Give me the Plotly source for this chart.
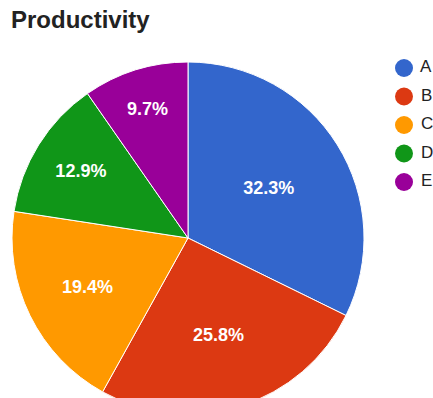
import plotly.graph_objects as go

labels = ["A", "B", "C", "D", "E"]
values = [10, 8, 6, 4, 3]
colors = ["#3366cc", "#dc3912", "#ff9900", "#109618", "#990099"]
title_text = "Productivity"

W, H = 433, 420  # figure a bit taller than the 398 window: pie runs off the bottom like the reference
FONT = "Liberation Sans, Arial, sans-serif"

fig = go.Figure()
fig.add_trace(go.Pie(
    labels=labels, values=values, sort=False, direction="clockwise", rotation=0,
    marker=dict(colors=colors, line=dict(color="white", width=1)),
    texttemplate="%{percent:.1%}", textposition="inside", insidetextorientation="horizontal",
    textfont=dict(family=FONT, size=18, color="white", weight="bold"),
    showlegend=False, hoverinfo="label+percent",
    domain=dict(x=[12 / W, 364 / W], y=[1 - 414 / H, 1 - 62 / H]),
))

# legend drawn as a column of circle markers with labels
fig.add_trace(go.Scatter(
    x=[0] * len(labels), y=labels, mode="markers+text",
    marker=dict(symbol="circle", size=18, color=colors),
    text=[" " + l for l in labels], textposition="middle right",
    textfont=dict(family=FONT, size=17, color="#222222"),
    cliponaxis=False, showlegend=False, hoverinfo="skip",
))

fig.update_layout(
    width=W, height=H,
    margin=dict(l=0, r=0, t=0, b=0),
    paper_bgcolor="white", plot_bgcolor="rgba(0,0,0,0)",
    showlegend=False,
    xaxis=dict(visible=False, domain=[396 / W, 412 / W], range=[-1, 1], fixedrange=True),
    yaxis=dict(visible=False, type="category", categoryorder="array", categoryarray=labels,
               domain=[1 - 196.25 / H, 1 - 53.75 / H], range=[4.5, -0.5], fixedrange=True),
    title=dict(text="<b>" + title_text + "</b>", x=11 / W, xanchor="left",
               y=1 - 11 / H, yanchor="top",
               font=dict(family=FONT, size=24, color="#222222")),
)

fig.write_html("out.html", config={"displayModeBar": False},
               post_script="document.body.style.margin='0';document.body.style.overflow='hidden';"
                           "document.documentElement.style.overflow='hidden';")
